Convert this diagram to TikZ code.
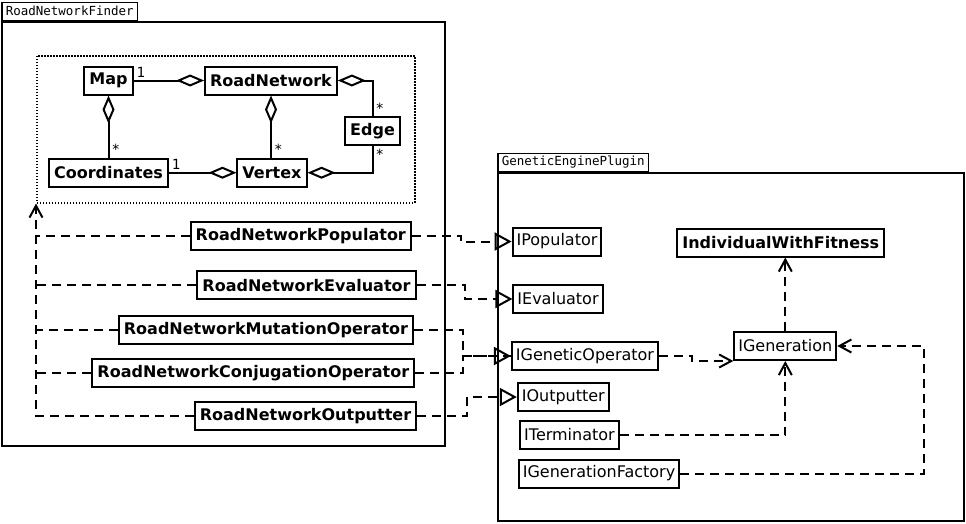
\documentclass[tikz,border=0pt]{standalone}
\usepackage{fontspec}
\setmainfont{DejaVu Sans}
\setmonofont{DejaVu Sans Mono}
\usetikzlibrary{arrows.meta}

\begin{document}
\begin{tikzpicture}[x=1pt, y=-1pt,
    cls/.style={draw, line width=2pt, font=\bfseries\fontsize{16}{18}\selectfont, minimum height=28pt, inner xsep=5pt, inner ysep=0pt},
    iface/.style={draw, line width=2pt, font=\fontsize{16}{18}\selectfont, minimum height=28pt, inner xsep=4pt, inner ysep=0pt},
    pkg/.style={draw, line width=2pt, anchor=north west},
    pkgtab/.style={draw, line width=1.5pt, anchor=south west, font=\ttfamily\fontsize{12.5}{14}\selectfont, inner xsep=4pt, inner ysep=0pt, minimum height=18pt},
    mult/.style={font=\ttfamily\fontsize{14}{15}\selectfont, inner sep=2pt},
    aggr/.style={line width=2pt, {Diamond[open, length=28pt, width=12pt]}-},
    dep/.style={line width=2pt, dash pattern=on 9pt off 6pt},
    impl/.style={dep, -{Triangle[open, length=17pt, width=18pt]}},
    uses/.style={dep, -{Straight Barb[length=12pt, width=13pt]}}
]
    \useasboundingbox (0,0) rectangle (966,523);

    % packages
    \node[pkg, minimum width=443pt, minimum height=424pt] (finder) at (1,21) {};
    \node[pkgtab] (finderTab) at (1,21) {RoadNetworkFinder};
    \node[pkg, minimum width=466pt, minimum height=348pt] (plugin) at (497,172) {};
    \node[pkgtab] (pluginTab) at (497,172) {GeneticEnginePlugin};
    \node[draw, line width=1.5pt, dash pattern=on 1.5pt off 1.5pt, minimum width=378pt, minimum height=147pt, anchor=north west] (core) at (36,55) {};

    % road network model
    \node[cls] (Map) at (108.5,80.5) {Map};
    \node[cls] (RoadNetwork) at (271,80.5) {RoadNetwork};
    \node[cls] (Edge) at (372.5,131) {Edge};
    \node[cls] (Coordinates) at (108.5,172.7) {Coordinates};
    \node[cls] (Vertex) at (272,172.7) {Vertex};

    \draw[aggr] (RoadNetwork.west) -- (Map.east) node[mult, above right] {1};
    \draw[aggr] (Map.south) -- (Map.south |- Coordinates.north) node[mult, above right] {*};
    \draw[aggr] (RoadNetwork.south) -- (RoadNetwork.south |- Vertex.north) node[mult, above right] {*};
    \draw[aggr] (RoadNetwork.east) -| (Edge.north) node[mult, above right] {*};
    \draw[aggr] (Vertex.east) -| (Edge.south) node[mult, below right] {*};
    \draw[aggr] (Vertex.west) -- (Coordinates.east) node[mult, above right] {1};

    % plugin implementations
    \node[cls] (RNPopulator) at (300.8,235.8) {RoadNetworkPopulator};
    \node[cls] (RNEvaluator) at (306.5,285.2) {RoadNetworkEvaluator};
    \node[cls] (RNMutation) at (266,330) {RoadNetworkMutationOperator};
    \node[cls] (RNConjugation) at (253.3,373) {RoadNetworkConjugationOperator};
    \node[cls] (RNOutputter) at (305.5,416) {RoadNetworkOutputter};

    \draw[uses] (RNOutputter.west) -| (core.south west);
    \draw[dep] (RNPopulator.west) -- (RNPopulator.west -| core.south west);
    \draw[dep] (RNEvaluator.west) -- (RNEvaluator.west -| core.south west);
    \draw[dep] (RNMutation.west) -- (RNMutation.west -| core.south west);
    \draw[dep] (RNConjugation.west) -- (RNConjugation.west -| core.south west);

    % plugin interfaces
    \node[iface] (IPopulator) at (557,241.5) {IPopulator};
    \node[iface] (IEvaluator) at (558,299) {IEvaluator};
    \node[iface] (IGeneticOperator) at (585,356) {IGeneticOperator};
    \node[iface] (IOutputter) at (563.3,397) {IOutputter};
    \node[iface] (ITerminator) at (569.5,435) {ITerminator};
    \node[iface] (IGenerationFactory) at (599,473.5) {IGenerationFactory};
    \node[cls] (IndividualWithFitness) at (780.8,242.5) {IndividualWithFitness};
    \node[iface] (IGeneration) at (785.3,346) {IGeneration};

    \draw[impl] (RNPopulator.east) -- ++(49,0) |- (IPopulator.west);
    \draw[impl] (RNEvaluator.east) -- ++(48,0) |- (IEvaluator.west);
    \draw[impl] (RNMutation.east) -- ++(49,0) |- (IGeneticOperator.west);
    \draw[dep] (RNConjugation.east) -- ++(48,0) |- (IGeneticOperator.west);
    \draw[impl] (RNOutputter.east) -- ++(50,0) |- (IOutputter.west);

    \draw[uses] (IGeneration.north) -- (IGeneration.north |- IndividualWithFitness.south);
    \draw[uses] (IGeneticOperator.east) -- ++(33,0) |- (IGeneration.south west);
    \draw[uses] (ITerminator.east) -| (IGeneration.south);
    \draw[uses] (IGenerationFactory.east) -- ++(244,0) |- (IGeneration.east);
\end{tikzpicture}
\end{document}
